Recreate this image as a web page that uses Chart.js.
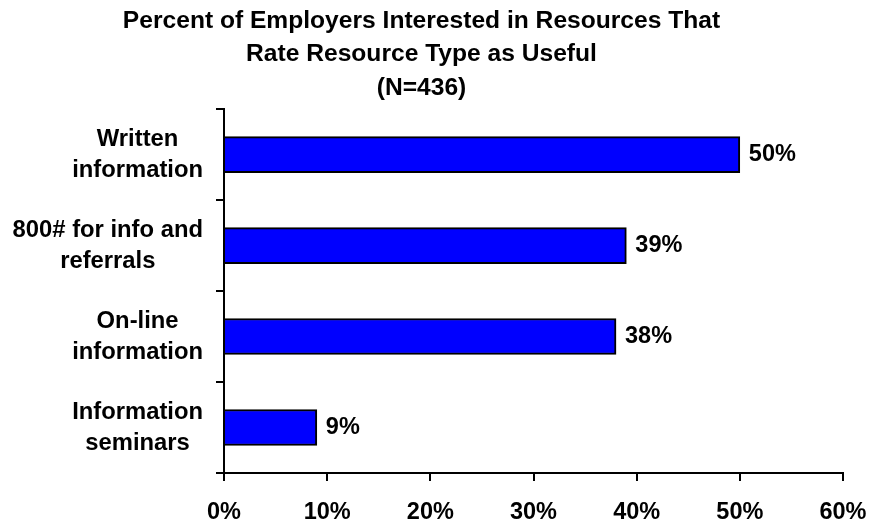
<!doctype html>
<html lang="en">
<head>
<meta charset="utf-8">
<title>Resource Type Usefulness</title>
<script src="https://cdn.jsdelivr.net/npm/chart.js@4.4.1/dist/chart.umd.min.js"></script>
<style>
  html, body { margin: 0; padding: 0; background: #fff; }
  canvas { display: block; }
</style>
</head>
<body>
<canvas id="myChart" width="878" height="523"></canvas>
<script>
// resource types, top to bottom
var resources = [
    ['Written', 'information'],
    ['800# for info and', 'referrals'],
    ['On-line', 'information'],
    ['Information', 'seminars']
]
// percent rating each type as useful
var useful = [50, 39, 38, 9]
var xTicks = [0, 10, 20, 30, 40, 50, 60]
var titleLines = [
    'Percent of Employers Interested in Resources That',
    'Rate Resource Type as Useful',
    '(N=436)'
]

var FONT = '"Liberation Sans", Arial, sans-serif'

// category labels: each block right-aligned to the axis, lines centred within it
var categoryLabels = {
    id: 'categoryLabels',
    afterDraw: function(chart) {
        var ctx = chart.ctx
        var yScale = chart.scales.y
        var right = yScale.right - 21
        var lineH = 31
        ctx.save()
        ctx.font = 'bold 23.8px ' + FONT
        ctx.fillStyle = '#000'
        ctx.textAlign = 'center'
        ctx.textBaseline = 'middle'
        resources.forEach(function(lines, i) {
            var cy = yScale.getPixelForValue(i)
            var w = 0
            lines.forEach(function(l) { w = Math.max(w, ctx.measureText(l).width) })
            var cx = right - w / 2
            var y0 = cy - (lines.length - 1) * lineH / 2
            lines.forEach(function(l, j) {
                ctx.fillText(l, cx, y0 + j * lineH)
            })
        })
        ctx.restore()
    }
}

// percent labels at the end of each bar
var valueLabels = {
    id: 'valueLabels',
    afterDatasetsDraw: function(chart) {
        var ctx = chart.ctx
        var meta = chart.getDatasetMeta(0)
        ctx.save()
        ctx.font = 'bold 23.5px ' + FONT
        ctx.fillStyle = '#000'
        ctx.textAlign = 'left'
        ctx.textBaseline = 'middle'
        meta.data.forEach(function(bar, i) {
            ctx.fillText(useful[i] + '%', bar.x + 9, bar.y)
        })
        ctx.restore()
    }
}

var ctx = document.getElementById('myChart').getContext('2d')

var chart = new Chart(ctx, {
    type: 'bar',
    data: {
        labels: resources,
        datasets: [{
            data: useful,
            backgroundColor: '#0000ff',
            borderColor: '#000',
            borderWidth: 2,
            borderSkipped: 'start',
            barThickness: 36
        }]
    },
    options: {
        indexAxis: 'y',
        responsive: false,
        animation: false,
        layout: { padding: { left: 0, right: 35, top: 0, bottom: 0 } },
        plugins: {
            legend: { display: false },
            tooltip: { enabled: false },
            title: {
                display: true,
                text: titleLines,
                color: '#000',
                font: { family: FONT, size: 24.6, weight: 'bold', lineHeight: 1.37 },
                padding: { top: 4, bottom: 4 }
            }
        },
        scales: {
            x: {
                min: 0,
                max: 60,
                afterBuildTicks: function(scale) {
                    scale.ticks = xTicks.map(function(v) { return { value: v } })
                },
                afterFit: function(scale) { scale.height = 50 },
                border: { display: true, color: '#000', width: 2 },
                grid: {
                    drawOnChartArea: false,
                    drawTicks: true,
                    tickLength: 8,
                    color: '#000',
                    lineWidth: 2
                },
                ticks: {
                    color: '#000',
                    padding: 10,
                    maxRotation: 0,
                    // tall line box pushes the labels down without widening the side padding
                    font: { family: FONT, size: 23.5, weight: 'bold', lineHeight: 1.8 },
                    callback: function(v) { return v + '%' }
                }
            },
            y: {
                afterFit: function(scale) { scale.width = 224 },
                border: { display: true, color: '#000', width: 2 },
                grid: {
                    offset: true,
                    drawOnChartArea: false,
                    drawTicks: true,
                    tickLength: 8,
                    color: '#000',
                    lineWidth: 2
                },
                ticks: { display: false }
            }
        }
    },
    plugins: [categoryLabels, valueLabels]
})
</script>
</body>
</html>
